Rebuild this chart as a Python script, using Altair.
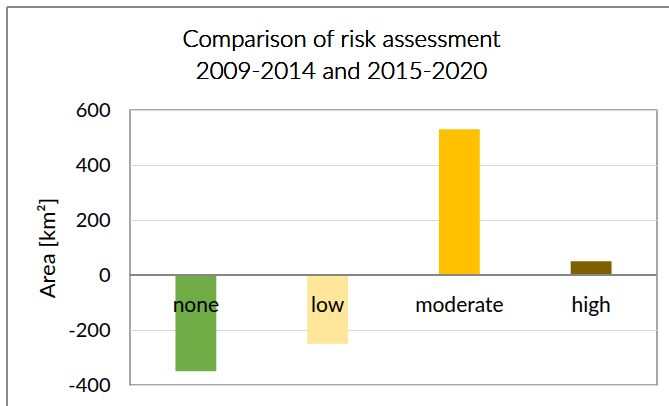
import altair as alt
import pandas as pd

# Change in area per risk class between the two assessment periods
categories = ["none", "low", "moderate", "high"]
area_change = [-350, -250, 530, 50]
bar_colors = ["#70AD47", "#FFE699", "#FFC000", "#7F6000"]
y_ticks = [-400, -200, 0, 200, 400, 600]
title_lines = ["Comparison of risk assessment", "2009-2014 and 2015-2020"]

df = pd.DataFrame({"category": categories, "area": area_change})

FONT = "Lato"
W, H = 527, 275

x_enc = alt.X("category:N", sort=categories, axis=None,
              scale=alt.Scale(paddingInner=0.69, paddingOuter=0.345))
y_scale = alt.Scale(domain=[-400, 600], nice=False)

bars = alt.Chart(df).mark_bar().encode(
    x=x_enc,
    y=alt.Y("area:Q", scale=y_scale,
            axis=alt.Axis(values=y_ticks, title="Area [km²]", domain=False, ticks=False,
                          grid=True, gridColor="#D9D9D9", gridWidth=1,
                          labelExpr="datum.value",
                          labelFontSize=20, labelColor="#000000", labelPadding=20,
                          labelFont=FONT, titleFont=FONT, titleFontSize=22,
                          titleFontWeight="normal", titleColor="#000000", titlePadding=8)),
    color=alt.Color("category:N", sort=categories,
                    scale=alt.Scale(domain=categories, range=bar_colors), legend=None),
)

zero_line = alt.Chart(df).mark_rule(color="#868686", strokeWidth=1.5).encode(
    y=alt.datum(0, scale=y_scale)
)

labels = alt.Chart(df).mark_text(font=FONT, fontSize=21, color="#000000", dy=31,
                                 baseline="middle").encode(
    x=x_enc,
    y=alt.datum(0, scale=y_scale),
    text="category:N",
)

# Two-line chart heading, centred over the whole chart area
heading = [
    alt.Chart(df).mark_text(font=FONT, fontSize=24, fontWeight=300, color="#000000",
                            baseline="middle", align="center").encode(
        x=alt.value(211.5), y=alt.value(yy), text=alt.value(line)
    )
    for line, yy in zip(title_lines, [-70, -38.5])
]

# Outer chart-area frame (top and left edges)
frame_top = alt.Chart(df).mark_rule(color="#898989", strokeWidth=1.5).encode(
    x=alt.value(-123), x2=alt.value(560), y=alt.value(-103)
)
frame_left = alt.Chart(df).mark_rule(color="#898989", strokeWidth=1.5).encode(
    x=alt.value(-123), y=alt.value(-103), y2=alt.value(320)
)

chart = alt.layer(bars, zero_line, labels, *heading, frame_top, frame_left).properties(
    width=W, height=H,
    autosize=alt.AutoSizeParams(type="none"),
    padding={"left": 130, "top": 110, "right": 12, "bottom": 21},
).configure_view(stroke="#898989", strokeWidth=1.5)

chart.save("out.html", embed_options={"renderer": "svg", "actions": False})
